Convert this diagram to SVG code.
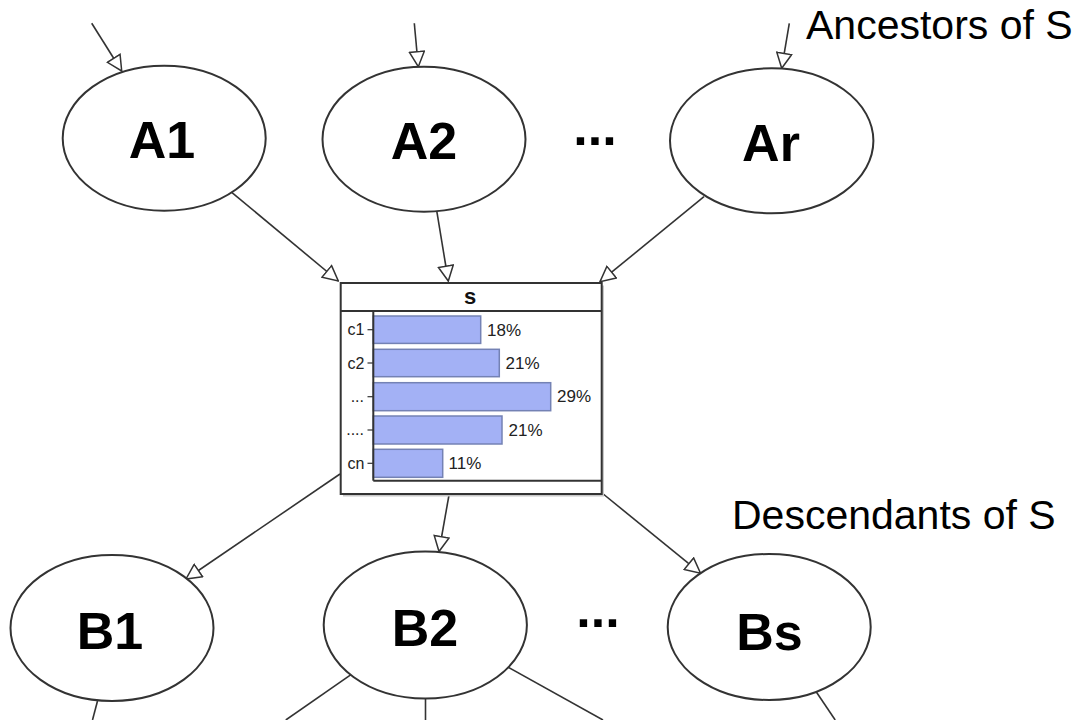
<svg xmlns="http://www.w3.org/2000/svg" width="1081" height="720" viewBox="0 0 1081 720">
  <defs>
    <marker id="arr" markerUnits="userSpaceOnUse" markerWidth="17" markerHeight="17" refX="15" refY="7.5" orient="auto" viewBox="-1 -1 17 17">
      <path d="M0,0 L15,7.5 L0,15 Z" fill="#fff" stroke="#333" stroke-width="1.5" stroke-linejoin="miter"/>
    </marker>
  </defs>
  <style>
    .node { fill: #fff; stroke: #333; stroke-width: 2; }
    .lbl { font-family: "Liberation Sans", Arial, sans-serif; font-weight: bold; font-size: 52px; fill: #000; text-anchor: middle; }
    .cap { font-family: "Liberation Sans", Arial, sans-serif; font-size: 41px; fill: #000; }
    .edge { stroke: #333; stroke-width: 1.6; fill: none; }
    .bar { fill: #a3b1f5; stroke: #7482b4; stroke-width: 1.5; }
    .cat { font-family: "Liberation Sans", Arial, sans-serif; font-size: 16px; fill: #222; text-anchor: end; }
    .pct { font-family: "Liberation Sans", Arial, sans-serif; font-size: 17px; fill: #222; }
    .tick { stroke: #333; stroke-width: 1.2; }
  </style>
  <rect width="1081" height="720" fill="#fff"/>

  <g id="connectors">
    <line class="edge" x1="91.7" y1="23.3" x2="121.7" y2="71" marker-end="url(#arr)"/>
    <line class="edge" x1="414.3" y1="23.3" x2="418.3" y2="66.7" marker-end="url(#arr)"/>
    <line class="edge" x1="789.3" y1="23.3" x2="781.7" y2="68.3" marker-end="url(#arr)"/>
    <line class="edge" x1="231.7" y1="192.3" x2="338.3" y2="281" marker-end="url(#arr)"/>
    <line class="edge" x1="436.7" y1="210.7" x2="448.3" y2="281" marker-end="url(#arr)"/>
    <line class="edge" x1="704" y1="196.7" x2="600" y2="281.7" marker-end="url(#arr)"/>
    <line class="edge" x1="340" y1="474" x2="186" y2="579" marker-end="url(#arr)"/>
    <line class="edge" x1="449" y1="495" x2="439" y2="551.5" marker-end="url(#arr)"/>
    <line class="edge" x1="602" y1="493" x2="700.5" y2="573.2" marker-end="url(#arr)"/>
    <line class="edge" x1="97.5" y1="701" x2="92.5" y2="720"/>
    <line class="edge" x1="352.8" y1="673.4" x2="285.8" y2="720"/>
    <line class="edge" x1="425.5" y1="698.5" x2="425.5" y2="720"/>
    <line class="edge" x1="506" y1="666" x2="603" y2="720"/>
    <line class="edge" x1="815" y1="690" x2="835.2" y2="720"/>
  </g>

  <g id="A1">
    <ellipse class="node" cx="164.2" cy="138.2" rx="101.5" ry="72.5"/>
    <text class="lbl" x="162" y="157.5">A1</text>
  </g>
  <g id="A2">
    <ellipse class="node" cx="424" cy="139.2" rx="101.5" ry="72.5"/>
    <text class="lbl" x="424" y="158.5">A2</text>
  </g>
  <g id="Ar">
    <ellipse class="node" cx="771.7" cy="140.8" rx="101.7" ry="72.5"/>
    <text class="lbl" x="771" y="160.5">Ar</text>
  </g>
  <g id="dots-top">
    <text class="lbl" x="595" y="145">...</text>
  </g>
  <g id="ancestors-label">
    <text class="cap" x="806" y="39.3">Ancestors of S</text>
  </g>

  <g id="S">
    <rect x="343" y="285.5" width="261" height="211" fill="#c8c8c8"/>
    <rect x="340.7" y="283" width="261" height="211" fill="#fff" stroke="#333" stroke-width="2"/>
    <line x1="340.7" y1="311" x2="601.7" y2="311" stroke="#333" stroke-width="2"/>
    <text x="470" y="304.3" font-family="Liberation Sans, Arial, sans-serif" font-weight="bold" font-size="22" text-anchor="middle" fill="#111">s</text>
    <rect class="bar" x="373.3" y="316" width="107.4" height="27.4"/>
    <rect class="bar" x="373.3" y="349.3" width="126" height="27.4"/>
    <rect class="bar" x="373.3" y="382.7" width="177.4" height="28"/>
    <rect class="bar" x="373.3" y="416" width="128.7" height="28"/>
    <rect class="bar" x="373.3" y="449.3" width="69.4" height="28"/>
    <line x1="373.3" y1="311" x2="373.3" y2="480.7" stroke="#333" stroke-width="2"/>
    <line x1="373.3" y1="480.7" x2="601.7" y2="480.7" stroke="#333" stroke-width="2"/>
    <line class="tick" x1="367.5" y1="329.7" x2="373.3" y2="329.7"/>
    <line class="tick" x1="367.5" y1="363" x2="373.3" y2="363"/>
    <line class="tick" x1="367.5" y1="396.7" x2="373.3" y2="396.7"/>
    <line class="tick" x1="367.5" y1="430" x2="373.3" y2="430"/>
    <line class="tick" x1="367.5" y1="463.3" x2="373.3" y2="463.3"/>
    <text class="cat" x="364.5" y="335.3">c1</text>
    <text class="cat" x="364.5" y="368.6">c2</text>
    <text class="cat" x="364" y="402" font-size="14">...</text>
    <text class="cat" x="364" y="435.3" font-size="14">....</text>
    <text class="cat" x="364.5" y="468.9">cn</text>
    <text class="pct" x="487" y="335.5">18%</text>
    <text class="pct" x="505.5" y="368.8">21%</text>
    <text class="pct" x="557" y="402.3">29%</text>
    <text class="pct" x="508.5" y="435.6">21%</text>
    <text class="pct" x="448.5" y="468.9">11%</text>
  </g>

  <g id="B1">
    <ellipse class="node" cx="112" cy="628" rx="101.5" ry="73"/>
    <text class="lbl" x="110" y="649">B1</text>
  </g>
  <g id="B2">
    <ellipse class="node" cx="425.3" cy="625" rx="101.6" ry="73.5"/>
    <text class="lbl" x="425" y="646">B2</text>
  </g>
  <g id="Bs">
    <ellipse class="node" cx="769.2" cy="627" rx="101.5" ry="73"/>
    <text class="lbl" x="769.5" y="649.5">Bs</text>
  </g>
  <g id="dots-bottom">
    <text class="lbl" x="598" y="627">...</text>
  </g>
  <g id="descendants-label">
    <text class="cap" x="732" y="529">Descendants of S</text>
  </g>
</svg>
